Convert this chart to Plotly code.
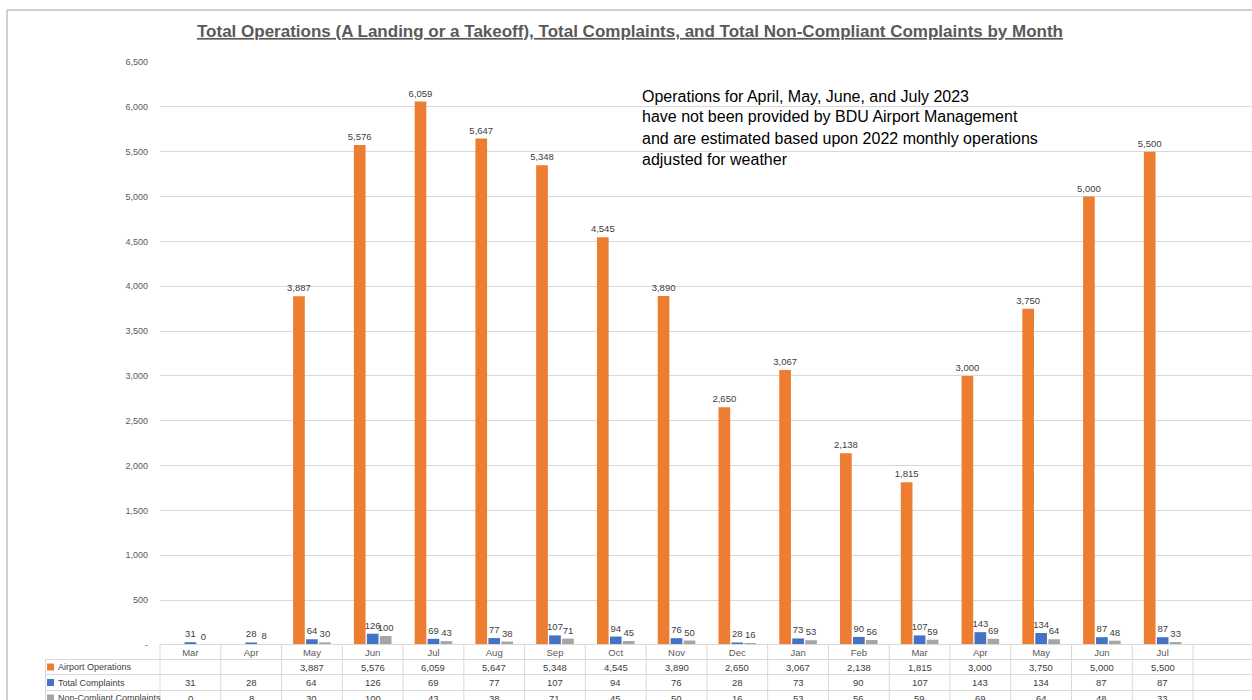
import plotly.graph_objects as go

# ---------------- data ----------------
x_keys = ["Mar 2022", "Apr 2022", "May 2022", "Jun 2022", "Jul 2022", "Aug 2022",
          "Sep 2022", "Oct 2022", "Nov 2022", "Dec 2022", "Jan 2023", "Feb 2023",
          "Mar 2023", "Apr 2023", "May 2023", "Jun 2023", "Jul 2023"]
month_labels = ["Mar", "Apr", "May", "Jun", "Jul", "Aug", "Sep", "Oct", "Nov", "Dec",
                "Jan", "Feb", "Mar", "Apr", "May", "Jun", "Jul"]
airport_operations = [None, None, 3887, 5576, 6059, 5647, 5348, 4545, 3890, 2650,
                      3067, 2138, 1815, 3000, 3750, 5000, 5500]
total_complaints = [31, 28, 64, 126, 69, 77, 107, 94, 76, 28, 73, 90, 107, 143, 134, 87, 87]
non_compliant = [0, 8, 30, 100, 43, 38, 71, 45, 50, 16, 53, 56, 59, 69, 64, 48, 33]

series_names = ["Airport Operations", "Total Complaints", "Non-Comliant Complaints"]
series_colors = ["#ED7D31", "#4472C4", "#A5A5A5"]

y_tickvals = [0, 500, 1000, 1500, 2000, 2500, 3000, 3500, 4000, 4500, 5000, 5500, 6000, 6500]
y_ticktext = ["-", "500", "1,000", "1,500", "2,000", "2,500", "3,000", "3,500", "4,000",
              "4,500", "5,000", "5,500", "6,000", "6,500"]

title_text = ("Total Operations (A Landing or a Takeoff), Total Complaints, "
              "and Total Non-Compliant Complaints by Month")
note_lines = ["Operations for April, May, June, and July 2023",
              "have not been provided by BDU Airport Management",
              "and are estimated based upon 2022 monthly operations",
              "adjusted for weather"]

# ---------------- layout constants ----------------
FIG_W, FIG_H = 1252, 700
L, R, T, B = 160, 0, 62, 55
PLOT_W = FIG_W - L - R
PLOT_H = FIG_H - T - B
PLOT_BOTTOM = FIG_H - B
X_RANGE = [-0.5, 17.47]
FONT = "Liberation Sans"
TXT = "#404040"
GRID = "#D9D9D9"


def px_x(p):
    return (p - L) / PLOT_W


def px_y(p):
    return (PLOT_BOTTOM - p) / PLOT_H


def cat_edge_paper(k):
    return (k - 0.5 - X_RANGE[0]) / (X_RANGE[1] - X_RANGE[0])


fig = go.Figure()
for name, vals, col in zip(series_names,
                           [airport_operations, total_complaints, non_compliant],
                           series_colors):
    fig.add_trace(go.Bar(
        x=x_keys, y=vals, name=name, marker=dict(color=col, line=dict(width=0)),
        texttemplate="%{y:,}", textposition="outside", cliponaxis=False,
        constraintext="none", textfont=dict(size=9.5, color=TXT, family=FONT),
        showlegend=False,
    ))

shapes = []
line_style = dict(color=GRID, width=1)
# table: header top line
shapes.append(dict(type="line", xref="paper", yref="paper", x0=0, x1=1,
                   y0=px_y(644.5), y1=px_y(644.5), line=line_style, layer="above"))
# row lines
for yy in [659.5, 674.5, 690.5]:
    shapes.append(dict(type="line", xref="paper", yref="paper", x0=px_x(45), x1=1,
                       y0=px_y(yy), y1=px_y(yy), line=line_style))
# legend column left border
shapes.append(dict(type="line", xref="paper", yref="paper", x0=px_x(45.5), x1=px_x(45.5),
                   y0=px_y(659.5), y1=px_y(FIG_H + 5), line=line_style))
# column separators
for k in range(len(x_keys) + 1):
    xp = cat_edge_paper(k)
    if xp <= 1.0:
        shapes.append(dict(type="line", xref="paper", yref="paper", x0=xp, x1=xp,
                           y0=px_y(644.5), y1=px_y(FIG_H + 5), line=line_style))
# outer frame of chart object
frame = dict(color="#BFBFBF", width=1.5)
shapes.append(dict(type="line", xref="paper", yref="paper", x0=px_x(7), x1=px_x(7),
                   y0=px_y(10), y1=px_y(FIG_H + 5), line=frame))
shapes.append(dict(type="line", xref="paper", yref="paper", x0=px_x(7), x1=1,
                   y0=px_y(10), y1=px_y(10), line=frame))

annotations = []
row_centers = [667, 682.5, 698]
for r, (name, vals, col) in enumerate(zip(series_names,
                                          [airport_operations, total_complaints, non_compliant],
                                          series_colors)):
    yc = row_centers[r]
    # legend key
    shapes.append(dict(type="rect", xref="paper", yref="paper",
                       x0=px_x(47), x1=px_x(54), y0=px_y(yc - 3.5), y1=px_y(yc + 3.5),
                       fillcolor=col, line=dict(width=0)))
    annotations.append(dict(xref="paper", yref="paper", x=px_x(55.5), y=px_y(yc),
                            xanchor="left", yanchor="middle", showarrow=False,
                            text=name, font=dict(size=9, color=TXT, family=FONT)))
    for xk, v in zip(x_keys, vals):
        if v is None:
            continue
        annotations.append(dict(xref="x", yref="paper", x=xk, y=px_y(yc),
                                xanchor="center", yanchor="middle", showarrow=False,
                                text=f"{v:,}", font=dict(size=9.5, color=TXT, family=FONT)))

for i, line in enumerate(note_lines):
    annotations.append(dict(xref="paper", yref="paper", x=px_x(640), y=px_y(96 + 21 * i),
                            xanchor="left", yanchor="middle", showarrow=False,
                            text=line, font=dict(size=16, color="#000000", family=FONT)))

fig.update_layout(
    width=FIG_W, height=FIG_H,
    margin=dict(l=L, r=R, t=T, b=B, pad=0),
    paper_bgcolor="white", plot_bgcolor="white",
    barmode="group", bargap=0.36, bargroupgap=0.1,
    title=dict(text="<b><u>" + title_text + "</u></b>", xref="paper",
               xanchor="center", y=1 - 31 / FIG_H, yref="container", yanchor="middle",
               font=dict(size=17, color="#595959", family=FONT)),
    xaxis=dict(type="category", range=X_RANGE, tickvals=x_keys, ticktext=month_labels,
               showgrid=False, zeroline=False, showline=False, ticks="",
               tickfont=dict(size=9.5, color="#595959", family=FONT)),
    yaxis=dict(range=[0, 6500], tickvals=y_tickvals, ticktext=y_ticktext,
               showgrid=True, gridcolor=GRID, gridwidth=1, zeroline=False,
               showline=False, ticks="", ticklabelstandoff=11,
               tickfont=dict(size=9, color="#595959", family=FONT)),
    shapes=shapes, annotations=annotations, showlegend=False,
)
fig.update_layout(title_x=(630 - L) / PLOT_W)

fig.write_html("out.html")
